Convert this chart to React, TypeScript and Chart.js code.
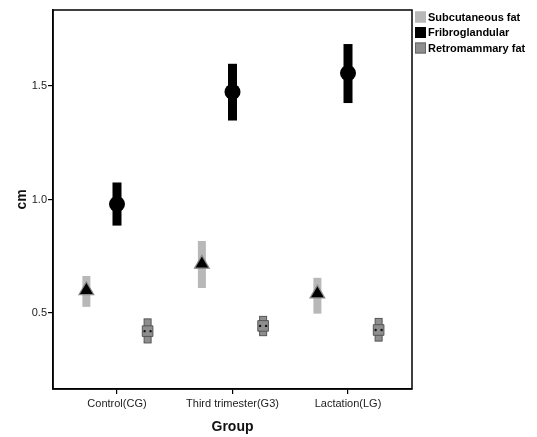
import React, { useEffect, useRef } from "react";
import { Chart, registerables } from "chart.js";

Chart.register(...registerables);

const categories = ["Control(CG)", "Third trimester(G3)", "Lactation(LG)"];
const seriesNames = ["Subcutaneous fat", "Fribroglandular", "Retromammary fat"];
const seriesOffsets = [-0.265, 0, 0.265];
const yTicks = [0.5, 1.0, 1.5];

const subMean = [0.6, 0.716, 0.585];
const subLow = [0.527, 0.61, 0.497];
const subHigh = [0.663, 0.817, 0.655];

const fibMean = [0.98, 1.474, 1.557];
const fibLow = [0.885, 1.348, 1.425];
const fibHigh = [1.075, 1.598, 1.685];

const retMean = [0.42, 0.443, 0.425];
const retLow = [0.368, 0.4, 0.376];
const retHigh = [0.474, 0.485, 0.476];

const FONT = "'Liberation Sans', Arial, sans-serif";

const barStyles = [
  { fill: "#b8b8b8", stroke: "#b8b8b8", width: 8 },
  { fill: "#000000", stroke: "#000000", width: 9 },
  { fill: "#8e8e8e", stroke: "#555555", width: 7 },
];
const legendColors = [
  { fill: "#b8b8b8", stroke: "#b8b8b8" },
  { fill: "#000000", stroke: "#000000" },
  { fill: "#8e8e8e", stroke: "#666666" },
];

const lows = [subLow, fibLow, retLow];
const highs = [subHigh, fibHigh, retHigh];
const means = [subMean, fibMean, retMean];

export default function App() {
  const ref = useRef<HTMLCanvasElement | null>(null);

  useEffect(() => {
    document.body.style.margin = "0";
    const canvas = ref.current;
    if (!canvas) return;

    const errorBars = {
      id: "errorBars",
      beforeDatasetsDraw(chart: any) {
        const ctx = chart.ctx;
        const xs = chart.scales.x;
        const ys = chart.scales.y;
        ctx.save();
        for (let s = 0; s < 3; s++) {
          const st = barStyles[s];
          for (let i = 0; i < categories.length; i++) {
            const x = xs.getPixelForValue(i + seriesOffsets[s]);
            const yTop = ys.getPixelForValue(highs[s][i]);
            const yBot = ys.getPixelForValue(lows[s][i]);
            ctx.fillStyle = st.fill;
            ctx.fillRect(x - st.width / 2, yTop, st.width, yBot - yTop);
            if (s === 2) {
              ctx.strokeStyle = st.stroke;
              ctx.lineWidth = 1;
              ctx.strokeRect(x - st.width / 2, yTop, st.width, yBot - yTop);
            }
          }
        }
        ctx.restore();
      },
      afterDatasetsDraw(chart: any) {
        const ctx = chart.ctx;
        const xs = chart.scales.x;
        const ys = chart.scales.y;
        ctx.save();
        ctx.fillStyle = "#111";
        for (let i = 0; i < categories.length; i++) {
          const x = xs.getPixelForValue(i + seriesOffsets[2]);
          const y = ys.getPixelForValue(retMean[i]);
          ctx.beginPath();
          ctx.arc(x - 3, y, 1.2, 0, Math.PI * 2);
          ctx.arc(x + 3, y, 1.2, 0, Math.PI * 2);
          ctx.fill();
        }
        ctx.restore();
      },
    };

    const frame = {
      id: "frame",
      afterDraw(chart: any) {
        const { left, top, right, bottom } = chart.chartArea;
        const ctx = chart.ctx;
        ctx.save();
        ctx.strokeStyle = "#000";
        ctx.lineWidth = 1.5;
        ctx.strokeRect(left, top, right - left, bottom - top);
        // legend
        ctx.font = `bold 11px ${FONT}`;
        ctx.textBaseline = "middle";
        ctx.textAlign = "left";
        for (let s = 0; s < seriesNames.length; s++) {
          const y0 = 11.5 + s * 15.5;
          ctx.fillStyle = legendColors[s].fill;
          ctx.fillRect(right + 3, y0, 11, 11);
          ctx.strokeStyle = legendColors[s].stroke;
          ctx.lineWidth = 1;
          ctx.strokeRect(right + 3.5, y0 + 0.5, 10, 10);
          ctx.fillStyle = "#000";
          ctx.fillText(seriesNames[s], right + 16, y0 + 6);
        }
        ctx.restore();
      },
    };

    const mk = (s: number) => means[s].map((v, i) => ({ x: i + seriesOffsets[s], y: v }));

    const chart = new Chart(canvas, {
      type: "scatter",
      data: {
        datasets: [
          {
            label: seriesNames[0],
            data: mk(0),
            pointStyle: "triangle",
            pointRadius: 8.5,
            backgroundColor: "#000",
            borderColor: "#8a8a8a",
            borderWidth: 1.2,
          },
          {
            label: seriesNames[1],
            data: mk(1),
            pointStyle: "circle",
            pointRadius: 8,
            backgroundColor: "#000",
            borderColor: "#000",
            borderWidth: 0,
          },
          {
            label: seriesNames[2],
            data: mk(2),
            pointStyle: "rect",
            pointRadius: 7.5,
            backgroundColor: "#8e8e8e",
            borderColor: "#555",
            borderWidth: 1,
          },
        ],
      },
      options: {
        animation: false,
        responsive: false,
        layout: { padding: { top: 10, right: 125, left: 0, bottom: 0 } },
        plugins: {
          legend: { display: false },
          tooltip: { enabled: false },
        },
        scales: {
          x: {
            type: "linear",
            min: -0.554,
            max: 2.554,
            afterBuildTicks: (scale: any) => {
              scale.ticks = categories.map((_, i) => ({ value: i }));
            },
            afterFit: (scale: any) => {
              scale.height = 48;
            },
            ticks: {
              autoSkip: false,
              maxRotation: 0,
              padding: 3,
              color: "#222",
              font: { family: FONT, size: 11 },
              callback: (v: any) => categories[Math.round(Number(v))] ?? "",
            },
            grid: {
              display: true,
              drawOnChartArea: false,
              drawTicks: true,
              tickLength: 5,
              color: "#000",
              lineWidth: 1.2,
            },
            border: { display: true, color: "#000", width: 1.5 },
            title: {
              display: true,
              text: "Group",
              color: "#111",
              font: { family: FONT, size: 14, weight: "bold" },
              padding: { top: 0, bottom: 1 },
            },
          },
          y: {
            type: "linear",
            min: 0.165,
            max: 1.835,
            afterBuildTicks: (scale: any) => {
              scale.ticks = yTicks.map((v) => ({ value: v }));
            },
            afterFit: (scale: any) => {
              scale.width = 53;
            },
            ticks: {
              padding: 1,
              color: "#222",
              font: { family: FONT, size: 11 },
              callback: (v: any) => Number(v).toFixed(1),
            },
            grid: {
              display: true,
              drawOnChartArea: false,
              drawTicks: true,
              tickLength: 5,
              color: "#000",
              lineWidth: 1.2,
            },
            border: { display: true, color: "#000", width: 1.5 },
            title: {
              display: true,
              text: "cm",
              color: "#111",
              font: { family: FONT, size: 14, weight: "bold" },
              padding: { top: 14, bottom: 0 },
            },
          },
        },
      },
      plugins: [errorBars, frame],
    } as any);

    return () => chart.destroy();
  }, []);

  return (
    <div style={{ width: 537, height: 437, background: "#fff" }}>
      <canvas ref={ref} width={537} height={437} style={{ display: "block" }} />
    </div>
  );
}
